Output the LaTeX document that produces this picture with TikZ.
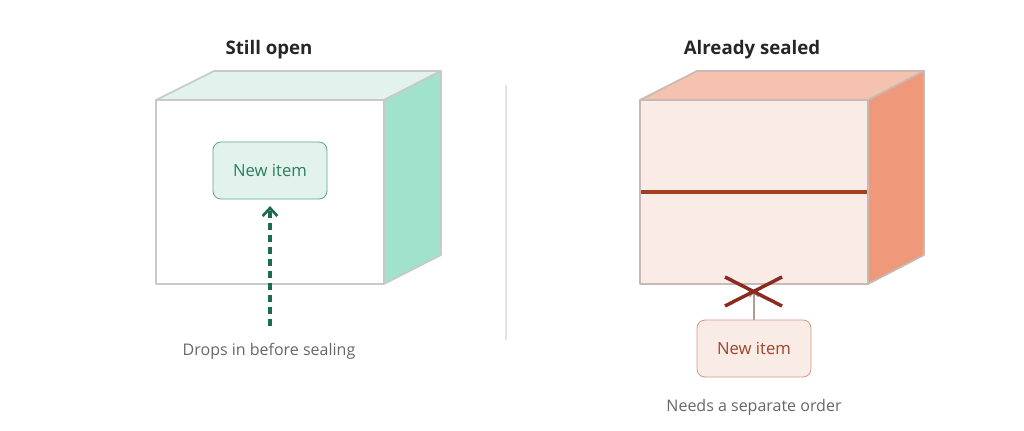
\documentclass[tikz,border=0pt]{standalone}
\usepackage{fontspec}
\setmainfont{Open Sans}
\usetikzlibrary{arrows.meta}
\definecolor{gedge}{HTML}{C9C9C9}
\definecolor{gtop}{HTML}{E1F3EC}
\definecolor{gside}{HTML}{A0E2CB}
\definecolor{gnode}{HTML}{E1F3EC}
\definecolor{gnodeb}{HTML}{5FA88A}
\definecolor{gtext}{HTML}{2E7D5B}
\definecolor{garrow}{HTML}{1E6B4F}
\definecolor{redge}{HTML}{C9B9B4}
\definecolor{rtop}{HTML}{F5C2AF}
\definecolor{rside}{HTML}{F0997A}
\definecolor{rfront}{HTML}{F9EBE6}
\definecolor{rseal}{HTML}{A0401F}
\definecolor{rnodeb}{HTML}{D49A85}
\definecolor{rtext}{HTML}{A0432A}
\definecolor{rcross}{HTML}{8B2A1E}
\definecolor{rarrow}{HTML}{B39A92}
\definecolor{labgray}{HTML}{666666}
\definecolor{divider}{HTML}{E3E3E3}
\begin{document}
\begin{tikzpicture}[x=0.75pt,y=-0.75pt,
  title/.style={font=\fontsize{14}{17}\selectfont\bfseries, text=black!85},
  itembox/.style={rounded corners=6pt, minimum width=114*0.75pt, minimum height=57*0.75pt, font=\fontsize{12.5}{15}\selectfont, line width=0.6pt},
  caption/.style={font=\fontsize{12}{14}\selectfont, text=labgray},
  faceg/.style={draw=gedge, line width=1.3pt, line join=round},
  facer/.style={draw=redge, line width=1.3pt, line join=round}]
\useasboundingbox (0,0) rectangle (1024,431);
% left box
\filldraw[faceg, fill=gtop] (156,100) -- (214,71) -- (441,71) -- (384,100) -- cycle;
\filldraw[faceg, fill=gside] (384,100) -- (441,71) -- (441,255) -- (384,284) -- cycle;
\filldraw[faceg, fill=white] (156,100) rectangle (384,284);
\node[title] (t1) at (269,50) {Still open};
\node[itembox, draw=gnodeb, fill=gnode, text=gtext] (n1) at (270,170.5) {New item};
\coordinate (s1) at (270,326);
\draw[garrow, line width=2.8pt, dash pattern=on 5pt off 4pt, -{Straight Barb[length=6pt,width=11pt,line width=2pt]}] (s1) -- ([yshift=-5pt]n1.south);
\node[caption] (c1) at (269,351) {Drops in before sealing};
% divider
\draw[divider, line width=0.8pt] (506,85) -- (506,340);
% right box
\filldraw[facer, fill=rtop] (640,100) -- (697,71) -- (924,71) -- (868,100) -- cycle;
\filldraw[facer, fill=rside] (868,100) -- (924,71) -- (924,255) -- (868,284) -- cycle;
\filldraw[facer, fill=rfront] (640,100) rectangle (868,284);
\draw[rseal, line width=2.6pt] (641,192) -- (867,192);
\node[title] (t2) at (752,50) {Already sealed};
\node[itembox, draw=rnodeb, fill=rfront, text=rtext] (n2) at (754,348.5) {New item};
\coordinate (a2) at (754,290);
\draw[rarrow, line width=1.4pt, -{Straight Barb[length=4pt,width=7pt]}] (n2.north) -- (a2);
\draw[rcross, line width=2.6pt] (725,277) -- (782,306) (725,306) -- (782,277);
\node[caption] (c2) at (754,407) {Needs a separate order};
\end{tikzpicture}
\end{document}
